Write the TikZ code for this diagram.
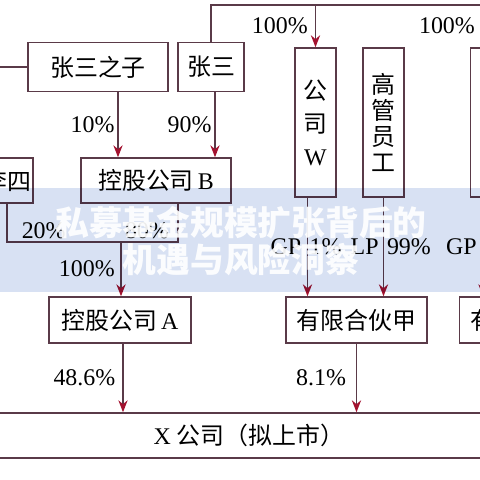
\documentclass[tikz,border=0pt]{standalone}
\usepackage{fontspec}
\setmainfont{Liberation Serif}
\newfontfamily\cjk{Noto Sans CJK SC}
\usetikzlibrary{arrows.meta, calc, positioning}
\definecolor{frame}{HTML}{5A3A48}
\definecolor{tipred}{HTML}{A3122F}
\definecolor{band}{HTML}{D8E1F3}
\newcommand{\zh}[1]{{\cjk #1}}

\begin{document}
\begin{tikzpicture}[
    x=0.025cm, y=-0.025cm,
    box/.style={draw=frame, line width=1pt, fill=white, inner sep=0pt, font=\fontsize{17pt}{20pt}\selectfont},
    link/.style={draw=frame, line width=1pt},
    arrow/.style={link, -{Stealth[length=3mm, width=2.3mm, color=tipred]}},
    pct/.style={font=\fontsize{17pt}{20pt}\selectfont, inner sep=2pt}
]
\useasboundingbox (0,0) rectangle (480,480);
\clip (0,0) rectangle (480,480);

% shareholders
\node[box, minimum width=3.5cm, minimum height=1.225cm] (son) at (98,67) {\zh{张三之子}};
\node[box, minimum width=1.65cm, minimum height=1.225cm] (zs) at (211,67) {\zh{张三}};
\node[box, minimum width=1.6cm, minimum height=1.125cm, text depth=0pt] (lisi) at (1,180.5) {\hspace{9pt}\zh{李四}};
\node[box, minimum width=3.75cm, minimum height=1.125cm] (b) at (156,180.5) {\zh{控股公司}\,B};
\node[box, minimum width=3.55cm, minimum height=1.15cm] (a) at (120,320) {\zh{控股公司}\,A};
\node[box, minimum width=1.025cm, minimum height=3.725cm, align=center] (w) at (315.5,122.5) {\zh{公}\\[3.5pt]\zh{司}\\[3.5pt]W};
\node[box, minimum width=1.025cm, minimum height=3.725cm, align=center, font=\cjk\fontsize{17pt}{18.5pt}\selectfont] (staff) at (383.5,122.5) {高\\管\\员\\工};
\node[box, minimum width=1.025cm, minimum height=3.725cm] (rt) at (491,122.5) {};
\node[box, minimum width=3.525cm, minimum height=1.15cm] (jia) at (356.5,320) {\zh{有限合伙甲}};
\node[box, minimum width=3.525cm, minimum height=1.15cm] (yi) at (530,320) {\zh{有限合伙乙}};
\node[box, minimum width=13cm, minimum height=1.125cm] (xco) at (249,435.5) {X\ \zh{公司（拟上市）}};

% top bus
\coordinate (tl) at (211,5);
\coordinate (tr) at (500,5);
\draw[link] (zs.north) -- (tl) -- (tr);
\draw[arrow] (w.north |- tl) -- node[pct, left, inner sep=5pt] {100\%} (w.north);
\draw[arrow] (rt.north |- tl) -- node[pct, left, inner sep=5pt, xshift=-6pt] {100\%} (rt.north);
\coordinate (lft) at (-10,67);
\draw[link] (son.west) -- (lft);

% into B
\coordinate (s1) at ($(son.south)+(20,0)$);
\coordinate (s2) at ($(zs.south)+(4,0)$);
\draw[arrow] (s1) -- node[pct, left] {10\%} (s1 |- b.north);
\draw[arrow] (s2) -- node[pct, left] {90\%} (s2 |- b.north);

% B and Li Si into A
\coordinate (l1) at ($(lisi.south)+(6,0)$);
\coordinate (b1) at ($(b.south)+(22,0)$);
\coordinate (j) at (121,242);
\draw[link] (l1) -- (l1 |- j) node[pct, above right, xshift=8pt] {20\%} -- (b1 |- j) node[pct, above left, xshift=-4pt] {80\%} -- (b1);
\draw[arrow] (j) -- node[pct, left, inner sep=4pt] {100\%} (j |- a.north);

% partnerships
\coordinate (w1) at ($(w.south)+(-8,0)$);
\coordinate (r1) at ($(rt.south)+(-8,0)$);
\draw[arrow] (w1) -- node[pct, left, inner sep=4pt] {GP} node[pct, right, inner sep=1pt] {1\%} (w1 |- jia.north);
\draw[arrow] (staff.south) -- node[pct, left, inner sep=3pt] {LP} node[pct, right, inner sep=2pt] {99\%} (staff.south |- jia.north);
\draw[arrow] (r1) -- node[pct, left, inner sep=4pt] {GP} (r1 |- yi.north);

% into X
\draw[arrow] ($(a.south)+(3,0)$) -- node[pct, left, inner sep=5pt] {48.6\%} ($(a.south |- xco.north)+(3,0)$);
\draw[arrow] (jia.south) -- node[pct, left, inner sep=7pt] {8.1\%} (jia.south |- xco.north);

% watermark band
\fill[band, blend mode=multiply] (-5,188) rectangle (485,292);
\node[text=white, opacity=0.92, align=center, font=\cjk\bfseries\fontsize{24pt}{26pt}\selectfont] (mark) at (241,241) {私募基金规模扩张背后的\\机遇与风险洞察};
\end{tikzpicture}
\end{document}
